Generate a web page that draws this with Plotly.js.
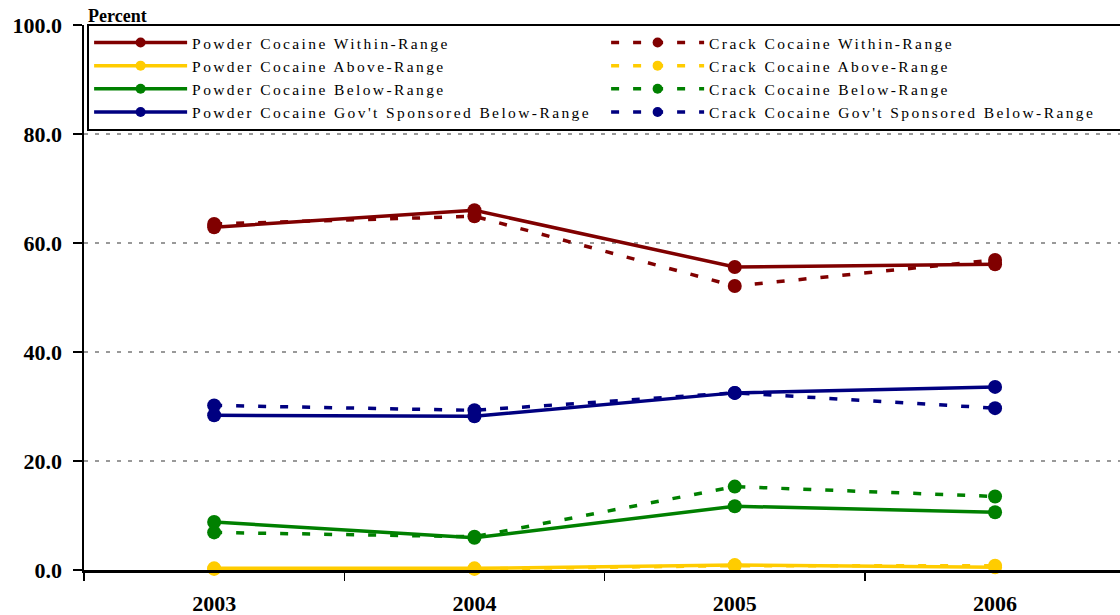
<!DOCTYPE html>
<html>
<head>
<meta charset="utf-8">
<script src="https://cdn.plot.ly/plotly-3.0.1.min.js"></script>
<style>
  html, body { margin: 0; padding: 0; background: #fff; }
  #chart { width: 1120px; height: 615px; }
  .legendtext { letter-spacing: 2.4px; }
  .legend .legendpoints path.scatterpts { d: path('M5,0A5,5 0 1,1 0,-5A5,5 0 0,1 5,0Z'); }
</style>
</head>
<body>
<div id="chart"></div>
<script>
// ---- data ----
const years = ['2003', '2004', '2005', '2006'];

const powderWithin  = [62.9, 66.0, 55.6, 56.1];
const crackWithin   = [63.5, 64.9, 52.1, 56.9];
const powderAbove   = [0.3, 0.3, 0.9, 0.5];
const crackAbove    = [0.2, 0.2, 0.8, 0.8];
const powderBelow   = [8.8, 5.9, 11.7, 10.6];
const crackBelow    = [6.9, 6.1, 15.3, 13.5];
const powderGov     = [28.4, 28.2, 32.5, 33.6];
const crackGov      = [30.2, 29.3, 32.5, 29.7];

const names = {
  pw: 'Powder Cocaine Within-Range',
  cw: 'Crack Cocaine Within-Range',
  pa: 'Powder Cocaine Above-Range',
  ca: 'Crack Cocaine Above-Range',
  pb: 'Powder Cocaine Below-Range',
  cb: 'Crack Cocaine Below-Range',
  pg: "Powder Cocaine Gov't Sponsored Below-Range",
  cg: "Crack Cocaine Gov't Sponsored Below-Range"
};

const colors = { within: '#800000', above: '#FFCC00', below: '#008000', gov: '#000080' };

const FONT = '"Liberation Serif", "Times New Roman", Times, serif';

function tr(y, name, color, dashed) {
  return {
    type: 'scatter', mode: 'lines+markers',
    x: years, y: y, name: name,
    line: { color: color, width: 3.5, dash: dashed ? '8px,14px' : 'solid' },
    marker: { color: color, size: 14, symbol: 'circle' },
    cliponaxis: false
  };
}

const data = [
  tr(powderWithin, names.pw, colors.within, false),
  tr(crackWithin,  names.cw, colors.within, true),
  tr(powderAbove,  names.pa, colors.above,  false),
  tr(crackAbove,   names.ca, colors.above,  true),
  tr(powderBelow,  names.pb, colors.below,  false),
  tr(crackBelow,   names.cb, colors.below,  true),
  tr(powderGov,    names.pg, colors.gov,    false),
  tr(crackGov,     names.cg, colors.gov,    true)
];

const layout = {
  width: 1120, height: 615,
  margin: { l: 84, r: 0, t: 25, b: 45, autoexpand: false },
  paper_bgcolor: '#fff', plot_bgcolor: '#fff',
  font: { family: FONT, color: '#000' },
  showlegend: true,
  legend: {
    orientation: 'h',
    x: 0.003, xanchor: 'left',
    y: 1.002, yanchor: 'top',
    bgcolor: '#fff', bordercolor: '#000', borderwidth: 2,
    font: { family: FONT, size: 15.5, color: '#000' },
    itemwidth: 93,
    entrywidth: 409,
    traceorder: 'normal'
  },
  xaxis: {
    type: 'category',
    range: [-0.5, 3.48],
    tickson: 'boundaries',
    ticks: 'outside', ticklen: 8, tickwidth: 1.5, tickcolor: '#000',
    showline: true, linecolor: '#000', linewidth: 2.5,
    showgrid: false, zeroline: false,
    tickfont: { family: FONT, size: 22, color: '#000', weight: 'bold' },
    ticklabelstandoff: 12,
    fixedrange: true
  },
  yaxis: {
    range: [0, 100], dtick: 20, tick0: 0,
    tickformat: '.1f',
    ticks: 'outside', ticklen: 9, tickwidth: 1.5, tickcolor: '#000',
    showline: true, linecolor: '#000', linewidth: 2.5,
    showgrid: true, gridcolor: '#999', gridwidth: 2, griddash: '4px,7px',
    zeroline: false,
    tickfont: { family: FONT, size: 22, color: '#000', weight: 'bold' },
    ticklabelstandoff: 6,
    fixedrange: true
  },
  annotations: [{
    text: 'Percent', xref: 'paper', yref: 'paper',
    x: 0, y: 1, xanchor: 'left', yanchor: 'bottom',
    xshift: 2, yshift: -3, showarrow: false,
    font: { family: FONT, size: 18, color: '#000', weight: 'bold' }
  }]
};

Plotly.newPlot('chart', data, layout, { displayModeBar: false, staticPlot: true });
</script>
</body>
</html>
